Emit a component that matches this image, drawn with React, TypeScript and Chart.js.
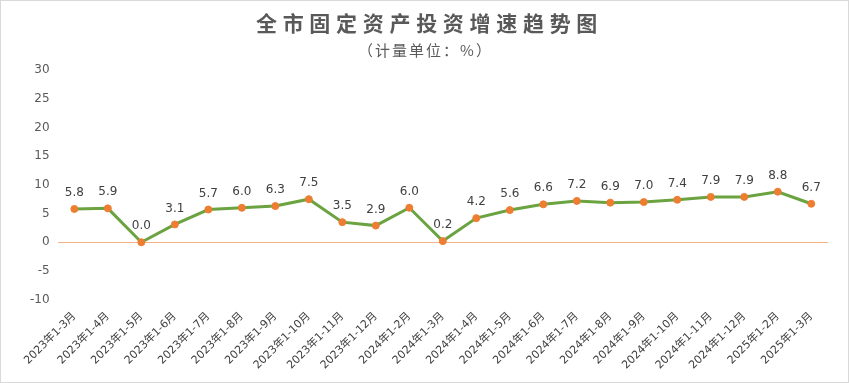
import React, { useEffect, useRef } from "react";
import { Chart, registerables } from "chart.js";

Chart.register(...registerables);

const categories = [
  "2023年1-3月", "2023年1-4月", "2023年1-5月", "2023年1-6月", "2023年1-7月",
  "2023年1-8月", "2023年1-9月", "2023年1-10月", "2023年1-11月", "2023年1-12月",
  "2024年1-2月", "2024年1-3月", "2024年1-4月", "2024年1-5月", "2024年1-6月",
  "2024年1-7月", "2024年1-8月", "2024年1-9月", "2024年1-10月", "2024年1-11月",
  "2024年1-12月", "2025年1-2月", "2025年1-3月",
];
const growth = [5.8, 5.9, 0.0, 3.1, 5.7, 6.0, 6.3, 7.5, 3.5, 2.9, 6.0, 0.2, 4.2, 5.6, 6.6, 7.2, 6.9, 7.0, 7.4, 7.9, 7.9, 8.8, 6.7];
const yMin = -10;
const yMax = 30;
const yStep = 5;
const titleText = "全市固定资产投资增速趋势图";
const subtitleText = "（计量单位：%）";

const FONT = "'DejaVu Sans', 'Noto Sans CJK SC', sans-serif";

const dataLabels = {
  id: "dataLabels",
  afterDatasetsDraw(chart: any) {
    const ctx = chart.ctx;
    const meta = chart.getDatasetMeta(0);
    ctx.save();
    ctx.font = `12px ${FONT}`;
    ctx.fillStyle = "#404040";
    ctx.textAlign = "center";
    ctx.textBaseline = "bottom";
    meta.data.forEach((pt: any, i: number) => {
      const v = chart.data.datasets[0].data[i] as number;
      ctx.fillText(v.toFixed(1), pt.x, pt.y - 10);
    });
    ctx.restore();
  },
};

const headings = {
  id: "headings",
  afterDraw(chart: any) {
    const ctx = chart.ctx;
    const cx = chart.width / 2;
    ctx.save();
    ctx.textAlign = "center";
    ctx.textBaseline = "middle";
    ctx.fillStyle = "#595959";
    ctx.font = `bold 21px 'Noto Sans CJK SC', sans-serif`;
    (ctx as any).letterSpacing = "5.7px";
    ctx.fillText(titleText, cx + 5, 22);
    ctx.font = `15px 'Noto Sans CJK SC', sans-serif`;
    (ctx as any).letterSpacing = "2px";
    ctx.fillText(subtitleText, cx + 1, 49);
    ctx.restore();
  },
};

export default function App() {
  const ref = useRef<HTMLCanvasElement>(null);
  useEffect(() => {
    document.body.style.margin = "0";
    const chart = new Chart(ref.current!, {
      type: "line",
      data: {
        labels: categories,
        datasets: [
          {
            data: growth,
            borderColor: "#6aa33f",
            borderWidth: 3,
            pointBackgroundColor: "#ed7d31",
            pointBorderColor: "#ed7d31",
            pointBorderWidth: 1,
            pointRadius: 3.5,
            tension: 0,
          },
        ],
      },
      options: {
        animation: false,
        responsive: false,
        maintainAspectRatio: false,
        layout: { padding: { left: 21, right: 20, top: 69, bottom: 8 } },
        plugins: {
          legend: { display: false },
          tooltip: { enabled: false },
          title: { display: false },
        },
        scales: {
          x: {
            offset: true,
            grid: { display: false },
            border: { display: false },
            ticks: {
              autoSkip: false,
              minRotation: 45,
              maxRotation: 45,
              color: "#404040",
              font: { size: 11, family: FONT },
              padding: 2,
            },
          },
          y: {
            min: yMin,
            max: yMax,
            border: { display: false },
            grid: {
              drawTicks: false,
              color: (c: any) => (c.tick && c.tick.value === 0 ? "#f4b183" : "rgba(0,0,0,0)"),
              lineWidth: 1,
            },
            ticks: {
              stepSize: yStep,
              color: "#595959",
              font: { size: 12, family: FONT },
              padding: 8,
            },
          },
        },
      },
      plugins: [dataLabels, headings],
    });
    return () => chart.destroy();
  }, []);
  return (
    <div style={{ position: "absolute", left: 0, top: 0, width: 849, height: 383, boxSizing: "border-box", border: "1px solid #d9d9d9", background: "#fff" }}>
      <canvas ref={ref} width={847} height={381} style={{ display: "block" }} />
    </div>
  );
}
